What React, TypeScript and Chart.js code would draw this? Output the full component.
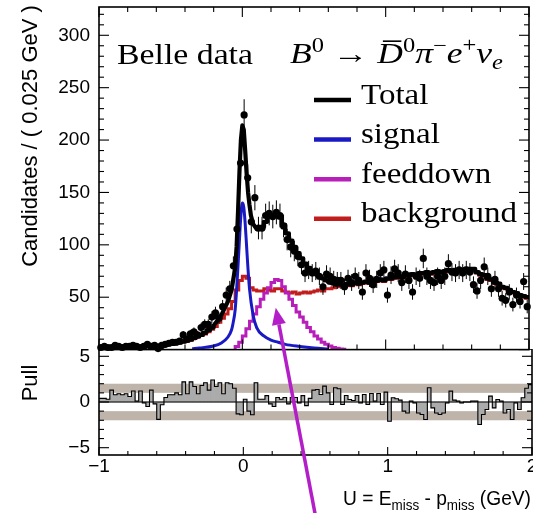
import React, { useEffect, useRef } from "react";
import { Chart, registerables } from "chart.js";

Chart.register(...registerables);

// ---------------- data ----------------
const X_MIN = -1;
const X_MAX = 2;
const BIN_WIDTH = 0.025;
const N_BINS = 120;

const binCenters: number[] = Array.from({ length: N_BINS }, (_, i) => X_MIN + BIN_WIDTH * (i + 0.5));

// Belle data: candidates per 0.025 GeV bin (bins 0..119)
const dataCounts = [
  2, 3, 2, 2, 4, 3, 2, 3, 3, 4,
  3, 2, 3, 5, 3, 4, 1, 4, 5, 6,
  7, 7, 8, 14, 10, 15, 17, 14, 21, 24,
  24, 31, 35, 30, 41, 52, 58, 80, 115, 178,
  224, 164, 122, 145, 116, 116, 128, 130, 127, 131,
  128, 118, 105, 98, 94, 89, 81, 73, 76, 73,
  75, 70, 60, 72, 70, 67, 66, 66, 60, 68,
  64, 70, 66, 55, 73, 68, 62, 67, 73, 76,
  52, 71, 77, 73, 64, 72, 66, 55, 70, 68,
  87, 70, 66, 64, 70, 66, 70, 82, 74, 73,
  76, 73, 76, 74, 62, 56, 66, 79, 70, 58,
  67, 58, 49, 47, 55, 43, 52, 46, 65, 41,
];

// Total fit: histogram part left of the peak (bins 0..31)
const totalStepLeft = [
  1.5, 1.5, 1.6, 1.7, 1.8, 1.9, 2.0, 2.1, 2.2, 2.4,
  2.5, 2.7, 2.9, 3.1, 3.3, 3.6, 3.9, 4.2, 4.6, 5.0,
  5.5, 6.0, 6.8, 7.6, 8.5, 9.5, 11, 12.5, 14, 16,
  18.5, 21,
];
// Total fit: smooth part around the signal peak
const totalPeakX = [-0.2, -0.15, -0.1, -0.075, -0.05, -0.04, -0.03, -0.02, -0.01, 0, 0.01, 0.02, 0.03, 0.04, 0.05, 0.06, 0.075, 0.1, 0.125];
const totalPeakY = [23, 32, 46, 57, 78, 98, 132, 170, 200, 214, 210, 190, 168, 150, 138, 128, 120, 115, 117];
// Total fit: histogram part right of the peak (bins 45..119)
const TOTAL_RIGHT_FIRST_BIN = 45;
const totalStepRight = [
  117, 122, 127, 128, 129,
  126, 119, 111, 104, 98, 92, 87, 82, 78, 75,
  72, 70, 68, 66, 64, 63, 62, 62, 61, 63,
  62, 64, 63, 64, 65, 64, 66, 66, 67, 66,
  68, 68, 69, 70, 69, 71, 71, 72, 71, 73,
  73, 74, 73, 74, 75, 74, 75, 76, 75, 76,
  76, 76, 77, 77, 77, 74, 72, 71, 68, 67,
  64, 63, 60, 59, 57, 55, 54, 52, 51, 50,
];

// Signal (smooth)
const signalX = [-0.35, -0.3, -0.2, -0.15, -0.1, -0.075, -0.065, -0.05, -0.04, -0.03, -0.02, -0.01, 0, 0.01, 0.02, 0.03, 0.04, 0.05, 0.075, 0.1, 0.15, 0.2, 0.25, 0.3, 0.4, 0.5, 0.6];
const signalY = [0.8, 1.5, 3.5, 6, 12, 19, 25, 38, 57, 80, 105, 128, 140, 136, 120, 98, 76, 58, 33, 21, 13, 9, 7, 5, 3, 1.5, 0.5];

// Feeddown histogram (starts at bin 38)
const FEEDDOWN_FIRST_BIN = 38;
const feeddownValues = [3, 7, 13, 20, 27, 34, 41, 48, 54, 59, 64, 67, 66, 60, 54, 48, 42, 36, 31, 26, 21, 17, 13, 10, 7, 5, 3.5, 2, 1.2, 0.6, 0.3];

// Background histogram (bins 0..119)
const backgroundValues = [
  1.3, 1.4, 1.5, 1.6, 1.7, 1.8, 1.9, 2.0, 2.1, 2.3,
  2.4, 2.6, 2.8, 3.0, 3.2, 3.5, 3.8, 4.1, 4.5, 4.9,
  5.3, 5.8, 6.5, 7.3, 8.0, 9.0, 10.5, 12, 13.5, 15,
  17, 19.5, 22, 26, 30, 34, 39, 46, 57, 66,
  70, 68, 59, 57, 56, 56, 58, 57, 56, 58,
  58, 56, 55, 54, 55, 53, 54, 55, 54, 55,
  56, 57, 56, 58, 58, 59, 60, 61, 60, 62,
  61, 63, 62, 63, 64, 63, 65, 65, 66, 65,
  67, 67, 68, 69, 68, 70, 70, 71, 70, 72,
  72, 73, 72, 73, 74, 73, 74, 75, 74, 75,
  75, 75, 76, 76, 76, 73, 71, 70, 67, 66,
  63, 62, 59, 58, 56, 54, 53, 51, 50, 49,
];

// Pulls (bins 0..119)
const pullValues = [
  0.4, 0.4, 0.3, 1.3, 0.8, 0.9, 0.8, 0.9, 0.6, 1.2,
  0.1, 1.2, -0.1, -0.5, 1.3, -0.2, -1.9, -0.3, 0.5, 0.8,
  0.8, 1.0, 0.8, 2.2, 0.9, 2.2, 1.7, 0.9, 1.8, 2.1,
  1.3, 2.4, 1.7, 2.1, 0.9, 2.1, 2.0, 1.5, -1.3, -1.4,
  0.3, -1.0, -1.4, 2.1, 0.3, 0.3, 0.7, -0.2, -0.5, 0.5,
  0.3, 0.5, -0.2, 0.5, 0.5, -0.1, 0.7, -0.4, 0.4, 1.3,
  1.37, 0.82, 1.74, 1.0, -0.27, 1.56, 1.45, -0.27, 0.71, 0.27,
  0.16, 0.71, -0.1, 0.82, -0.27, 0.93, 0.1, 0.93, -0.27, 1.08,
  -2.1, 0.46, 0.35, 0.2, -1.0, -1.2, 0.1, -0.1, -1.2, -1.37,
  -1.92, 1.56, -0.64, -1.2, -1.37, -1.2, -0.1, 1.19, 0.2, 0.1,
  -0.1, 0.0, 0.0, 0.1, 0.1, -2.47, -1.37, -0.82, 0.64, -0.64,
  0.27, 0.1, -1.2, -0.82, -1.92, -0.1, -0.82, 0.46, 1.5, 1.9,
];

const yTicksTop = [50, 100, 150, 200, 250, 300];
const yTicksPull = [-5, 0, 5];
const xTickValues = [-1, 0, 1, 2];
const pullBands = [[1, 2], [-2, -1]];

const ARROW_TIP = { x: 0.233, y: 40 };
const ARROW_TAIL = { x: 0.508, y: -157 };

// ---------------- styles ----------------
const COLOR_TOTAL = "#000000";
const COLOR_SIGNAL = "#1a1ac4";
const COLOR_FEED = "#b81eb9";
const COLOR_BKG = "#c21c1c";
const COLOR_ARROW = "#b41ec8";
const COLOR_BAND = "#bfb4aa";
const COLOR_PULL = "#ababab";
const FONT_SANS = "'Liberation Sans', Arial, sans-serif";
const FONT_SERIF = "'Liberation Serif', 'DejaVu Serif', serif";

const legendItems = [
  { label: "Total", color: COLOR_TOTAL },
  { label: "signal", color: COLOR_SIGNAL },
  { label: "feeddown", color: COLOR_FEED },
  { label: "background", color: COLOR_BKG },
];

type Pt = { x: number; y: number };

function stepPoints(firstBin: number, values: number[]): Pt[] {
  const pts: Pt[] = [];
  values.forEach((v, j) => {
    const left = X_MIN + (firstBin + j) * BIN_WIDTH;
    pts.push({ x: left, y: v }, { x: left + BIN_WIDTH, y: v });
  });
  return pts;
}

type Run = { t: string; size: number; italic?: boolean; dy?: number; over?: boolean; family?: string };

function runFont(r: Run) {
  return `${r.italic ? "italic " : ""}${r.size}px ${r.family ?? FONT_SERIF}`;
}

function drawRuns(
  ctx: CanvasRenderingContext2D,
  runs: Run[],
  x: number,
  baseline: number,
  opts: { scaleX?: number; width?: number; align?: "left" | "right" }
) {
  const widths = runs.map((r) => {
    ctx.font = runFont(r);
    return ctx.measureText(r.t).width;
  });
  const natural = widths.reduce((a, b) => a + b, 0);
  const sx = opts.width ? opts.width / natural : opts.scaleX ?? 1;
  const total = natural * sx;
  const startX = opts.align === "right" ? x - total : x;
  ctx.save();
  ctx.translate(startX, baseline);
  ctx.scale(sx, 1);
  ctx.textAlign = "left";
  ctx.textBaseline = "alphabetic";
  ctx.fillStyle = "#000";
  let cx = 0;
  runs.forEach((r, i) => {
    ctx.font = runFont(r);
    ctx.fillText(r.t, cx, r.dy ?? 0);
    if (r.over) {
      ctx.fillRect(cx + widths[i] * 0.22, (r.dy ?? 0) - r.size * 0.78, widths[i] * 0.72, 1.6);
    }
    cx += widths[i];
  });
  ctx.restore();
}

function line(ctx: CanvasRenderingContext2D, x1: number, y1: number, x2: number, y2: number) {
  ctx.beginPath();
  ctx.moveTo(x1, y1);
  ctx.lineTo(x2, y2);
  ctx.stroke();
}

function drawFrame(chart: any, o: { yStep: number; yFrom: number; yTo: number; yMajorEvery: number; xMajorLen: number; xMinorLen: number; yMajorLen: number; yMinorLen: number; topTicks: boolean }) {
  const { ctx, chartArea: a, scales } = chart;
  const xs = scales.x;
  const ys = scales.y;
  ctx.save();
  ctx.strokeStyle = "#000";
  ctx.lineWidth = 1.6;
  ctx.strokeRect(a.left, a.top, a.right - a.left, a.bottom - a.top);
  ctx.lineWidth = 1.1;
  for (let k = 0; k <= 15; k++) {
    const v = X_MIN + 0.2 * k;
    const px = xs.getPixelForValue(v);
    const len = k % 5 === 0 ? o.xMajorLen : o.xMinorLen;
    line(ctx, px, a.bottom, px, a.bottom - len);
    if (o.topTicks) line(ctx, px, a.top, px, a.top + len);
  }
  for (let v = o.yFrom; v <= o.yTo + 1e-9; v += o.yStep) {
    const py = ys.getPixelForValue(v);
    if (py < a.top - 0.5 || py > a.bottom + 0.5) continue;
    const major = Math.abs(v / o.yMajorEvery - Math.round(v / o.yMajorEvery)) < 1e-6;
    const len = major ? o.yMajorLen : o.yMinorLen;
    line(ctx, a.left, py, a.left + len, py);
    line(ctx, a.right, py, a.right - len, py);
  }
  ctx.restore();
}

function fmtTick(v: number) {
  return v < 0 ? "\u2212" + Math.abs(v) : String(v);
}

// ---------------- top chart ----------------
function topConfig(): any {
  const totalPoints: Pt[] = [
    ...stepPoints(0, totalStepLeft),
    ...totalPeakX.map((x, i) => ({ x, y: totalPeakY[i] })),
    ...stepPoints(TOTAL_RIGHT_FIRST_BIN, totalStepRight),
  ];
  const feedPoints: Pt[] = [{ x: X_MIN + FEEDDOWN_FIRST_BIN * BIN_WIDTH, y: 0 }, ...stepPoints(FEEDDOWN_FIRST_BIN, feeddownValues)];
  const decor = {
    id: "topDecor",
    afterDatasetsDraw(chart: any) {
      const { ctx, chartArea: a, scales } = chart;
      const xs = scales.x;
      const ys = scales.y;
      ctx.save();
      ctx.beginPath();
      ctx.rect(a.left, a.top, a.right - a.left, a.bottom - a.top);
      ctx.clip();
      ctx.strokeStyle = "#000";
      ctx.lineWidth = 1;
      dataCounts.forEach((n, i) => {
        const e = Math.sqrt(n);
        const px = xs.getPixelForValue(binCenters[i]);
        line(ctx, px, ys.getPixelForValue(n - e), px, ys.getPixelForValue(n + e));
      });
      ctx.restore();
    },
    afterDraw(chart: any) {
      const { ctx, scales } = chart;
      drawFrame(chart, { yStep: 10, yFrom: 0, yTo: 320, yMajorEvery: 50, xMajorLen: 10, xMinorLen: 5, yMajorLen: 10, yMinorLen: 5, topTicks: true });
      ctx.save();
      // y title
      ctx.translate(37, 136);
      ctx.rotate(-Math.PI / 2);
      ctx.font = `22px ${FONT_SANS}`;
      ctx.fillStyle = "#000";
      ctx.textAlign = "center";
      ctx.textBaseline = "alphabetic";
      ctx.fillText("Candidates / ( 0.025 GeV )", 0, 0);
      ctx.restore();
      // texts
      drawRuns(ctx, [{ t: "Belle data", size: 29 }], 117, 64, { width: 136 });
      drawRuns(
        ctx,
        [
          { t: "B", size: 29, italic: true },
          { t: "0", size: 20, dy: -11 },
          { t: " \u2192 ", size: 29 },
          { t: "D", size: 29, italic: true, over: true },
          { t: "0", size: 20, dy: -11 },
          { t: "\u03c0", size: 29, italic: true },
          { t: "\u2212", size: 20, dy: -11 },
          { t: "e", size: 29, italic: true },
          { t: "+", size: 20, dy: -11 },
          { t: "\u03bd", size: 29, italic: true },
          { t: "e", size: 20, italic: true, dy: 6 },
        ],
        290,
        63,
        { width: 213 }
      );
      // legend
      legendItems.forEach((it, i) => {
        const yl = 100 + 39.6 * i;
        ctx.save();
        ctx.strokeStyle = it.color;
        ctx.lineWidth = 4.5;
        line(ctx, 314, yl, 351, yl);
        ctx.restore();
        drawRuns(ctx, [{ t: it.label, size: 29 }], 361, yl + 3.5, { scaleX: 1.14 });
      });
      // arrow
      const xs = scales.x;
      const ys = scales.y;
      const tip = { x: xs.getPixelForValue(ARROW_TIP.x), y: ys.getPixelForValue(ARROW_TIP.y) };
      const tail = { x: xs.getPixelForValue(ARROW_TAIL.x), y: ys.getPixelForValue(ARROW_TAIL.y) };
      const ang = Math.atan2(tip.y - tail.y, tip.x - tail.x);
      const headLen = 17;
      const headHalf = 7;
      const bx = tip.x - headLen * Math.cos(ang);
      const by = tip.y - headLen * Math.sin(ang);
      ctx.save();
      ctx.strokeStyle = COLOR_ARROW;
      ctx.fillStyle = COLOR_ARROW;
      ctx.lineWidth = 3.5;
      line(ctx, tail.x, tail.y, bx, by);
      ctx.beginPath();
      ctx.moveTo(tip.x, tip.y);
      ctx.lineTo(bx + headHalf * Math.sin(ang), by - headHalf * Math.cos(ang));
      ctx.lineTo(bx - headHalf * Math.sin(ang), by + headHalf * Math.cos(ang));
      ctx.closePath();
      ctx.fill();
      ctx.restore();
    },
  };
  return {
    type: "line",
    data: {
      datasets: [
        {
          label: "data",
          data: binCenters.map((x, i) => ({ x, y: dataCounts[i] })),
          showLine: false,
          pointRadius: 3.6,
          pointBackgroundColor: "#000",
          pointBorderWidth: 0,
          clip: false,
        },
        {
          label: "Total",
          data: totalPoints,
          borderColor: COLOR_TOTAL,
          borderWidth: 4.2,
          pointRadius: 0,
          tension: 0,
          borderJoinStyle: "round",
        },
        {
          label: "signal",
          data: signalX.map((x, i) => ({ x, y: signalY[i] })),
          borderColor: COLOR_SIGNAL,
          borderWidth: 3,
          pointRadius: 0,
          cubicInterpolationMode: "monotone",
        },
        {
          label: "feeddown",
          data: feedPoints,
          borderColor: COLOR_FEED,
          borderWidth: 3,
          pointRadius: 0,
          tension: 0,
        },
        {
          label: "background",
          data: stepPoints(0, backgroundValues),
          borderColor: COLOR_BKG,
          borderWidth: 3,
          pointRadius: 0,
          tension: 0,
        },
      ],
    },
    options: {
      animation: false,
      responsive: false,
      devicePixelRatio: 1,
      events: [],
      layout: { padding: { top: 7, right: 1, bottom: 163.4, left: 0 } },
      plugins: { legend: { display: false }, tooltip: { enabled: false } },
      scales: {
        x: { type: "linear", min: X_MIN, max: X_MAX, display: false },
        y: {
          type: "linear",
          min: 0,
          max: 327,
          afterBuildTicks: (s: any) => {
            s.ticks = yTicksTop.map((v) => ({ value: v }));
          },
          afterFit: (s: any) => {
            s.width = 99;
            s.paddingTop = 0;
            s.paddingBottom = 0;
          },
          grid: { display: false, drawTicks: false },
          border: { display: false },
          ticks: { font: { family: FONT_SANS, size: 19 }, color: "#000", padding: 9 },
        },
      },
    },
    plugins: [decor],
  };
}

// ---------------- pull chart ----------------
function pullConfig(): any {
  const decor = {
    id: "pullDecor",
    beforeDatasetsDraw(chart: any) {
      const { ctx, chartArea: a, scales } = chart;
      ctx.save();
      ctx.fillStyle = COLOR_BAND;
      pullBands.forEach(([lo, hi]) => {
        const y1 = scales.y.getPixelForValue(hi);
        const y2 = scales.y.getPixelForValue(lo);
        ctx.fillRect(a.left, y1, a.right - a.left, y2 - y1);
      });
      ctx.restore();
    },
    afterDatasetsDraw(chart: any) {
      const { ctx, chartArea: a, scales } = chart;
      ctx.save();
      ctx.strokeStyle = "#000";
      ctx.lineWidth = 1.2;
      const y0 = scales.y.getPixelForValue(0);
      line(ctx, a.left, y0, a.right, y0);
      ctx.restore();
    },
    afterDraw(chart: any) {
      const { ctx } = chart;
      drawFrame(chart, { yStep: 1, yFrom: -5, yTo: 5, yMajorEvery: 5, xMajorLen: 8, xMinorLen: 4, yMajorLen: 10, yMinorLen: 5, topTicks: false });
      ctx.save();
      ctx.translate(37, 34);
      ctx.rotate(-Math.PI / 2);
      ctx.font = `22px ${FONT_SANS}`;
      ctx.fillStyle = "#000";
      ctx.textAlign = "center";
      ctx.textBaseline = "alphabetic";
      ctx.fillText("Pull", 0, 0);
      ctx.restore();
      drawRuns(
        ctx,
        [
          { t: "U = E", size: 20, family: FONT_SANS },
          { t: "miss", size: 14, dy: 5, family: FONT_SANS },
          { t: " - p", size: 20, family: FONT_SANS },
          { t: "miss", size: 14, dy: 5, family: FONT_SANS },
          { t: " (GeV)", size: 20, family: FONT_SANS },
        ],
        531,
        156,
        { width: 188, align: "right" }
      );
    },
  };
  return {
    type: "line",
    data: {
      datasets: [
        {
          type: "line",
          label: "pull outline",
          data: stepPoints(0, pullValues),
          borderColor: "#000",
          borderWidth: 1.1,
          pointRadius: 0,
          tension: 0,
        },
        {
          type: "bar",
          label: "pull",
          data: binCenters.map((x, i) => ({ x, y: pullValues[i] })),
          backgroundColor: COLOR_PULL,
          borderWidth: 0,
          barPercentage: 1,
          categoryPercentage: 1,
        },
      ],
    },
    options: {
      animation: false,
      responsive: false,
      devicePixelRatio: 1,
      events: [],
      layout: { padding: { top: 0, right: 1, bottom: 0, left: 0 } },
      plugins: { legend: { display: false }, tooltip: { enabled: false } },
      scales: {
        x: {
          type: "linear",
          min: X_MIN,
          max: X_MAX,
          offset: false,
          afterBuildTicks: (s: any) => {
            s.ticks = xTickValues.map((v) => ({ value: v }));
          },
          afterFit: (s: any) => {
            s.height = 58;
            s.paddingLeft = 0;
            s.paddingRight = 0;
          },
          grid: { display: false, drawTicks: false },
          border: { display: false },
          ticks: {
            font: { family: FONT_SANS, size: 19 },
            color: "#000",
            padding: 0,
            maxRotation: 0,
            autoSkip: false,
            callback: (v: any) => fmtTick(Number(v)),
          },
        },
        y: {
          type: "linear",
          min: -5.8,
          max: 5.8,
          afterBuildTicks: (s: any) => {
            s.ticks = yTicksPull.map((v) => ({ value: v }));
          },
          afterFit: (s: any) => {
            s.width = 99;
            s.paddingTop = 0;
            s.paddingBottom = 0;
          },
          grid: { display: false, drawTicks: false },
          border: { display: false },
          ticks: {
            font: { family: FONT_SANS, size: 19 },
            color: "#000",
            padding: 9,
            callback: (v: any) => fmtTick(Number(v)),
          },
        },
      },
    },
    plugins: [decor],
  };
}

export default function App() {
  const topRef = useRef<HTMLCanvasElement>(null);
  const pullRef = useRef<HTMLCanvasElement>(null);
  useEffect(() => {
    const pull = new Chart(pullRef.current as HTMLCanvasElement, pullConfig());
    const top = new Chart(topRef.current as HTMLCanvasElement, topConfig());
    return () => {
      top.destroy();
      pull.destroy();
    };
  }, []);
  return (
    <div style={{ position: "absolute", left: 0, top: 0, width: 533, height: 513, background: "#fff", overflow: "hidden" }}>
      <canvas ref={pullRef} width={533} height={164} style={{ position: "absolute", left: 0, top: 349, width: 533, height: 164 }} />
      <canvas ref={topRef} width={533} height={513} style={{ position: "absolute", left: 0, top: 0, width: 533, height: 513 }} />
    </div>
  );
}
